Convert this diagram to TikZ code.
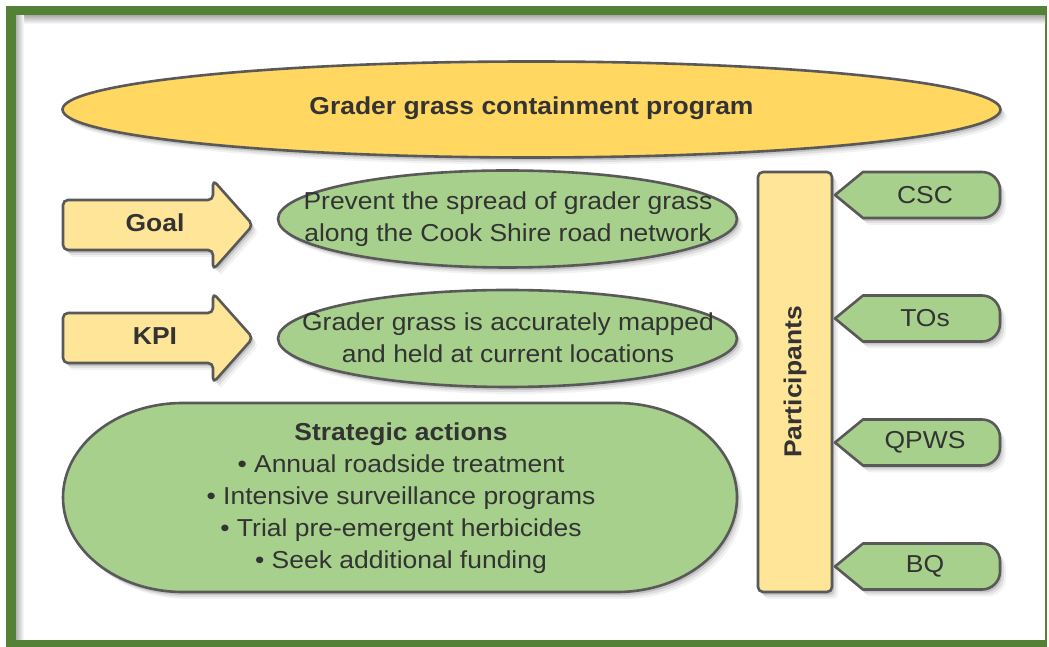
\documentclass[tikz,border=0pt]{standalone}
\usepackage{fontspec}
\setmainfont{Liberation Sans}[FakeStretch=1.08]
\usetikzlibrary{shadows,shapes.geometric}
\definecolor{bordergreen}{HTML}{538135}
\definecolor{ylw}{HTML}{FFD761}
\definecolor{lylw}{HTML}{FFE597}
\definecolor{grn}{HTML}{A7D08C}
\definecolor{edge}{HTML}{595959}
\definecolor{txt}{HTML}{333333}
\tikzset{
  softshadow/.style={
    drop shadow={shadow xshift=2pt,shadow yshift=-3pt,opacity=.12,fill=black},
    drop shadow={shadow xshift=4pt,shadow yshift=-5pt,opacity=.08,fill=black},
    drop shadow={shadow xshift=6pt,shadow yshift=-7pt,opacity=.05,fill=black}},
  shapeline/.style={draw=edge,line width=2.6pt,line join=round,softshadow},
  lbl/.style={text=txt,font=\fontsize{24.5}{32}\selectfont,align=center,inner sep=0pt},
  blbl/.style={lbl,font=\fontsize{24.5}{32}\selectfont\bfseries},
  tagbox/.style={shapeline,fill=grn},
}
\newcommand\ptag[3]{%
  \draw[tagbox] (835,#2) -- (863,#2+23) -- (982,#2+23)
    arc[start angle=90,end angle=0,radius=18] -- (1000,#2-5)
    arc[start angle=0,end angle=-90,radius=18] -- (863,#2-23) -- cycle;
  \node[lbl] (#1) at (925,#2) {#3};}
\begin{document}
\begin{tikzpicture}[x=1pt,y=1pt]
\useasboundingbox (0,0) rectangle (1049,647);
% frame
\fill[bordergreen] (6,0) rectangle (1047,641);
\fill[white] (16,7) rectangle (1045,631);
\shade[top color=black!30,bottom color=white] (16,623) rectangle (1045,631);
\shade[left color=black!30,right color=white] (16,7) rectangle (24,631);
\fill[white] (24,7) rectangle (1045,623);
% title
\node[ellipse,shapeline,fill=ylw,minimum width=938pt,minimum height=96pt,inner sep=0pt] (title) at (531.5,537.5) {};
\node[blbl] (titletext) at (531.5,539) {Grader grass containment program};
% arrows
\draw[shapeline,fill=lylw,rounded corners=5pt] (63,397) -- (63,447) -- (213,447) -- (213,467) -- (253,422) -- (213,377) -- (213,397) -- cycle;
\node[blbl] (goal) at (155,424) {Goal};
\draw[shapeline,fill=lylw,rounded corners=5pt] (63,284) -- (63,334) -- (213,334) -- (213,354) -- (253,309) -- (213,264) -- (213,284) -- cycle;
\node[blbl] (kpi) at (155,311) {KPI};
% green ellipses
\node[ellipse,shapeline,fill=grn,minimum width=459pt,minimum height=97pt,inner sep=0pt] (goalbox) at (507.5,428) {};
\node[lbl] (goaltext) at (508,428) {Prevent the spread of grader grass\\along the Cook Shire road network};
\node[ellipse,shapeline,fill=grn,minimum width=459pt,minimum height=97pt,inner sep=0pt] (kpibox) at (507.5,308.5) {};
\node[lbl] (kpitext) at (508,309) {Grader grass is accurately mapped\\and held at current locations};
% strategic actions
\draw[shapeline,fill=grn] (183,244) -- (617,244) arc[start angle=90,end angle=-90,x radius=120,y radius=94.5] -- (183,55) arc[start angle=270,end angle=90,x radius=120,y radius=94.5] -- cycle;
\node[lbl] (sa) at (401,149) {\textbf{Strategic actions}\\• Annual roadside treatment\\• Intensive surveillance programs\\• Trial pre-emergent herbicides\\• Seek additional funding};
% participants
\draw[shapeline,fill=lylw,rounded corners=5pt] (758,55) rectangle (832,475);
\node[blbl,rotate=90] (part) at (795,265) {Participants};
\ptag{csc}{452}{CSC}
\ptag{tos}{328.5}{TOs}
\ptag{qpws}{204.5}{QPWS}
\ptag{bq}{80.5}{BQ}
\end{tikzpicture}
\end{document}
